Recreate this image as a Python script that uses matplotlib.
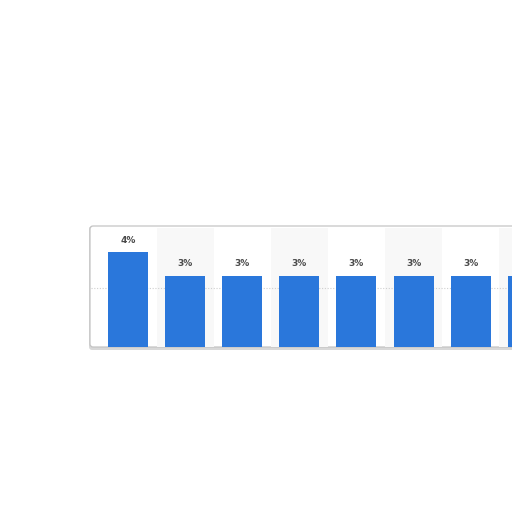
import matplotlib
matplotlib.use("Agg")
import matplotlib.pyplot as plt
from matplotlib.patches import FancyBboxPatch

# data (chart is cut at the right edge,
# the 8th bar's label falls outside the image)
categories = ["1", "2", "3", "4", "5", "6", "7", "8"]
values = [4, 3, 3, 3, 3, 3, 3, 3]
labels = ["4%", "3%", "3%", "3%", "3%", "3%", "3%"]

W = H = 512
slot = 57.1
x0 = 91      # left edge of plot area, px
x_first = 99.5  # where the first category slot starts
y_bottom = 347
y_top = 228

fig = plt.figure(figsize=(5.12, 5.12), dpi=100)
fig.patch.set_facecolor("white")

# card frame with a soft shadow
shadow = FancyBboxPatch((89 / W, (H - 350) / H), 700 / W, 124 / H,
                        boxstyle="round,pad=0,rounding_size=0.006",
                        transform=fig.transFigure, facecolor="#d8d8d8",
                        edgecolor="none", zorder=0)
card = FancyBboxPatch((90 / W, (H - 347) / H), 700 / W, 121 / H,
                      boxstyle="round,pad=0,rounding_size=0.006",
                      transform=fig.transFigure, facecolor="white",
                      edgecolor="#c4c4c4", linewidth=0.9, zorder=1)
fig.patches.extend([shadow, card])

n = len(categories)
pad = (x_first - x0) / slot
ax = fig.add_axes([x0 / W, (H - y_bottom) / H,
                   (x_first - x0 + n * slot) / W, (y_bottom - y_top) / H])
ax.set_facecolor("none")
ax.set_zorder(2)

xs = list(range(n))
for i in xs:
    if i % 2 == 1:
        ax.axvspan(i - 0.5, i + 0.5, color="#f8f8f8", zorder=0, lw=0)

ax.axhline(2.5, color="#cfcfcf", lw=0.8, ls=(0, (1, 1.5)), zorder=1)

ax.bar(xs, values, width=0.7, color="#2a77db", zorder=2)
for x, v, t in zip(xs, values, labels):
    ax.text(x, v + 0.3, t, ha="center", va="bottom", fontsize=6.5,
            fontweight="bold", color="#4a4a4a", zorder=3)

ax.set_xlim(-0.5 - pad, n - 0.5)
ax.set_ylim(0, 5)
ax.set_xticks([])
ax.set_yticks([])
for s in ax.spines.values():
    s.set_visible(False)

fig.savefig("out.png", dpi=100, facecolor="white")
